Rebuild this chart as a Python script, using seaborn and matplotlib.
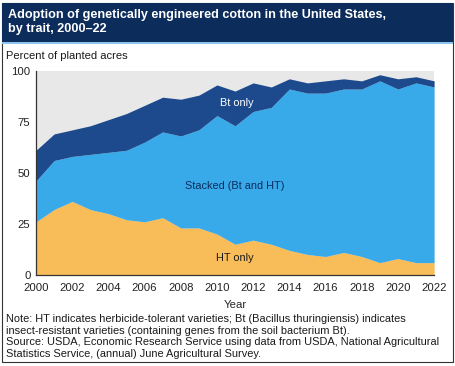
import numpy as np
import matplotlib
matplotlib.use("Agg")
import matplotlib.pyplot as plt
import seaborn as sns
from matplotlib.patches import Rectangle

years = list(range(2000, 2023))
ht_only = [26, 32, 36, 32, 30, 27, 26, 28, 23, 23, 20, 15, 17, 15, 12, 10, 9, 11, 9, 6, 8, 6, 6]
stacked = [20, 24, 22, 27, 30, 34, 39, 42, 45, 48, 58, 58, 63, 67, 79, 79, 80, 80, 82, 89, 83, 88, 86]
bt_only = [15, 13, 13, 14, 16, 18, 18, 17, 18, 17, 15, 17, 14, 10, 5, 5, 6, 5, 4, 3, 5, 3, 3]
series_labels = ["HT only", "Stacked (Bt and HT)", "Bt only"]
colors = ["#f8bd59", "#38a9e9", "#1c4a8d"]

sns.set_theme(style="white")
plt.rcParams["font.family"] = ["Liberation Sans", "DejaVu Sans"]

fig = plt.figure(figsize=(4.56, 3.66), dpi=100)
ax = fig.add_axes([0.079, 0.249, 0.873, 0.558])

ax.stackplot(years, ht_only, stacked, bt_only, colors=colors, linewidth=0)
ax.set_facecolor("#e8e8e8")
ax.set_xlim(2000, 2022)
ax.set_ylim(0, 100)
ax.set_xticks(years[::2])
ax.set_yticks([0, 25, 50, 75, 100])
ax.tick_params(axis="both", labelsize=8.2, colors="#222222", length=4,
               direction="inout", width=0.9)
ax.tick_params(axis="x", pad=4)
ax.tick_params(axis="y", pad=2)
sns.despine(ax=ax)
for s in ["left", "bottom"]:
    ax.spines[s].set_color("#333333")
    ax.spines[s].set_linewidth(0.9)
ax.set_xlabel("Year", fontsize=8.2, labelpad=5)

ax.text(2011.1, 84, "Bt only", color="white", fontsize=7.8, ha="center", va="center")
ax.text(2011.0, 43.5, "Stacked (Bt and HT)", color="#0c2c5c", fontsize=7.8, ha="center", va="center")
ax.text(2011.0, 8.3, "HT only", color="#1a1a1a", fontsize=7.8, ha="center", va="center")

# frame, title bar
W, H = 456, 366
fig.patches.append(Rectangle((2 / W, 1 - 362 / H), 451 / W, 359 / H, transform=fig.transFigure,
                             fill=False, edgecolor="#333333", linewidth=0.8))
fig.patches.append(Rectangle((2 / W, 1 - 42 / H), 451 / W, 39 / H, transform=fig.transFigure,
                             facecolor="#0c2c5c", edgecolor="none"))
fig.patches.append(Rectangle((2 / W, 1 - 43.5 / H), 451 / W, 1.5 / H, transform=fig.transFigure,
                             facecolor="#8cc4ec", edgecolor="none"))

fig.text(8 / W, 1 - 22 / H, "Adoption of genetically engineered cotton in the United States,\nby trait, 2000\u201322",
         color="white", fontsize=9.1, fontweight="bold", ha="left", va="center", linespacing=1.15)
fig.text(6 / W, 1 - 56 / H, "Percent of planted acres", fontsize=8, color="#1a1a1a", ha="left", va="center")

note = ("Note: HT indicates herbicide-tolerant varieties; Bt (Bacillus thuringiensis) indicates\n"
        "insect-resistant varieties (containing genes from the soil bacterium Bt).\n"
        "Source: USDA, Economic Research Service using data from USDA, National Agricultural\n"
        "Statistics Service, (annual) June Agricultural Survey.")
fig.text(6 / W, 1 - 314 / H, note, fontsize=7.9, color="#1a1a1a", ha="left", va="top", linespacing=1.2)

fig.savefig("out.png", dpi=100)
